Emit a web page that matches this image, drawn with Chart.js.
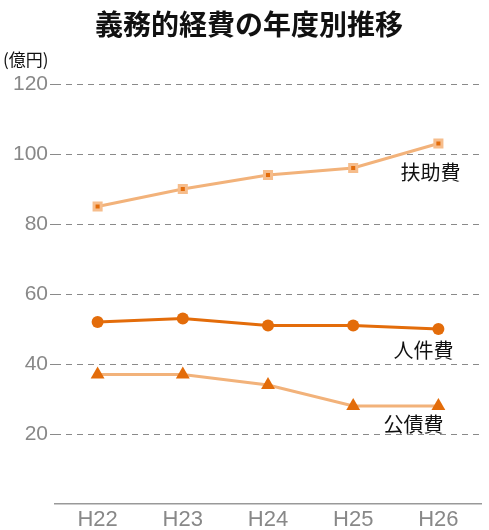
<!DOCTYPE html>
<html>
<head>
<meta charset="utf-8">
<script src="https://cdn.jsdelivr.net/npm/chart.js@4"></script>
<style>
  html, body { margin: 0; padding: 0; background: #fff; }
  #wrap { width: 489px; height: 530px; }
</style>
</head>
<body>
<div id="wrap"><canvas id="chart" width="489" height="530"></canvas></div>
<script>
const years = ['H22', 'H23', 'H24', 'H25', 'H26'];
const fujohi = [85, 90, 94, 96, 103];
const jinkenhi = [52, 53, 51, 51, 50];
const kosaihi = [37, 37, 34, 28, 28];
const seriesNames = ['扶助費', '人件費', '公債費'];

const dark = '#e36c0a';
const light = '#f2b27a';
const jp = '"Noto Sans CJK JP", "Noto Sans", sans-serif';
const num = '"Liberation Sans", sans-serif';

// title, unit and series names drawn next to the last point
const textPlugin = {
    id: 'texts',
    afterDraw(chart) {
        const ctx = chart.ctx;
        ctx.save();
        ctx.fillStyle = '#111';
        ctx.textAlign = 'center';
        ctx.textBaseline = 'middle';
        ctx.font = 'bold 28px ' + jp;
        ctx.fillText('義務的経費の年度別推移', 249, 24);

        ctx.textAlign = 'left';
        ctx.font = '17px ' + jp;
        ctx.fillText('(億円)', 3, 60);

        const offsets = [[-8, 29], [-15, 21], [-25, 18]];
        ctx.font = '20px ' + jp;
        ctx.textAlign = 'center';
        chart.data.datasets.forEach((ds, i) => {
            const pts = chart.getDatasetMeta(i).data;
            const last = pts[pts.length - 1];
            ctx.fillText(ds.label, last.x + offsets[i][0], last.y + offsets[i][1]);
        });
        ctx.restore();
    }
};

new Chart('chart', {
    type: 'line',
    data: {
        labels: years,
        datasets: [
            {
                label: seriesNames[0],
                data: fujohi,
                borderColor: light,
                borderWidth: 3,
                pointStyle: 'rect',
                pointRadius: 5,
                pointBorderWidth: 3,
                pointBorderColor: '#f6bd8c',
                pointBackgroundColor: dark,
            },
            {
                label: seriesNames[1],
                data: jinkenhi,
                borderColor: dark,
                borderWidth: 3,
                pointStyle: 'circle',
                pointRadius: 6,
                pointBorderWidth: 0,
                pointBackgroundColor: dark,
            },
            {
                label: seriesNames[2],
                data: kosaihi,
                borderColor: light,
                borderWidth: 3,
                pointStyle: 'triangle',
                pointRadius: 8,
                pointBorderWidth: 0,
                pointBackgroundColor: dark,
            },
        ],
    },
    options: {
        responsive: false,
        animation: false,
        layout: {
            padding: { top: 84, right: 4, bottom: 0, left: 0 },
        },
        plugins: {
            legend: { display: false },
            tooltip: { enabled: false },
        },
        scales: {
            x: {
                offset: true,
                afterFit: (scale) => { scale.height = 26; },
                grid: { display: false, drawTicks: false },
                border: { display: true, color: '#999', width: 1.5 },
                ticks: {
                    color: '#888',
                    padding: 3,
                    font: { size: 22, family: num },
                },
            },
            y: {
                min: 0,
                max: 120,
                afterFit: (scale) => { scale.width = 55; },
                border: { display: false, dash: [6, 5] },
                grid: {
                    color: (c) => c.tick.value === 0 ? 'rgba(0,0,0,0)' : '#8a8a8a',
                    lineWidth: 1,
                    tickLength: 5,
                },
                ticks: {
                    stepSize: 20,
                    color: '#888',
                    padding: 2,
                    font: { size: 21, family: num },
                    callback: (v) => v === 0 ? '' : v,
                },
            },
        },
    },
    plugins: [textPlugin],
});
</script>
</body>
</html>
